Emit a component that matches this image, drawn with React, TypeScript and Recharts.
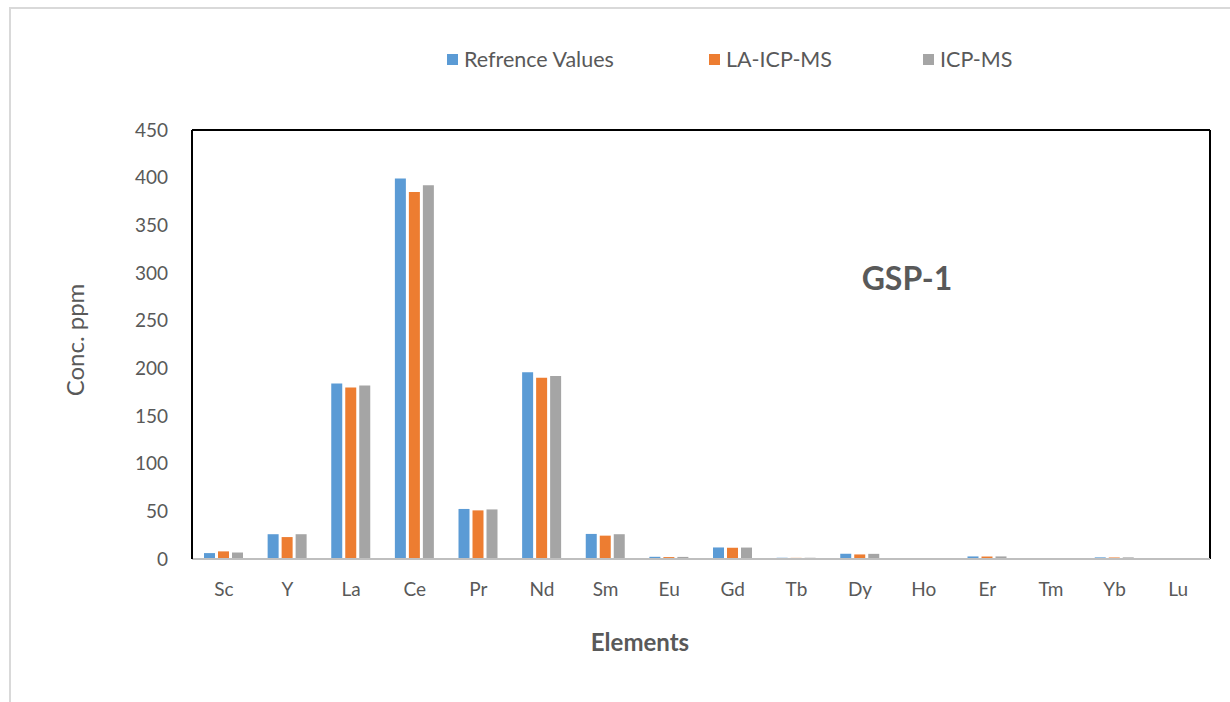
import React from 'react';
import { BarChart, Bar, XAxis, YAxis, Legend, CartesianGrid } from 'recharts';

const elements = ['Sc', 'Y', 'La', 'Ce', 'Pr', 'Nd', 'Sm', 'Eu', 'Gd', 'Tb', 'Dy', 'Ho', 'Er', 'Tm', 'Yb', 'Lu'];
const referenceValues = [6.2, 26, 184, 399, 52.5, 196, 26.3, 2.3, 12.1, 1.3, 5.5, 1.0, 2.7, 0.3, 1.7, 0.2];
const laIcpMs = [8, 23, 180, 385, 51, 190, 24.5, 2.0, 11.8, 1.2, 4.8, 1.0, 2.6, 0.3, 1.6, 0.2];
const icpMs = [6.8, 26, 182, 392, 52, 192, 26, 2.2, 12, 1.3, 5.4, 1.0, 2.7, 0.3, 1.7, 0.2];
const yTicks = [0, 50, 100, 150, 200, 250, 300, 350, 400, 450];

const seriesNames = ['Refrence Values', 'LA-ICP-MS', 'ICP-MS'];
const seriesColors = ['#5b9bd5', '#ed7d31', '#a5a5a5'];

const data = elements.map((el, i) => ({
  element: el,
  refValue: referenceValues[i],
  laValue: laIcpMs[i],
  icpValue: icpMs[i],
}));

const FONT = 'Lato, "Open Sans", sans-serif';
const TEXT = '#595959';
const legendItemWidths = [262, 214, 100];

function renderLegend() {
  return (
    <div style={{ display: 'flex', alignItems: 'center', fontFamily: FONT, fontSize: 21.5, color: TEXT, lineHeight: '24px' }}>
      {seriesNames.map((n, i) => (
        <div key={n} style={{ display: 'flex', alignItems: 'center', width: legendItemWidths[i], whiteSpace: 'nowrap' }}>
          <span style={{ display: 'inline-block', width: 11, height: 11, background: seriesColors[i], marginRight: 6 }} />
          <span>{n}</span>
        </div>
      ))}
    </div>
  );
}

export default function App() {
  return (
    <div style={{ position: 'absolute', left: 0, top: 0, width: 1230, height: 702, background: '#fff', overflow: 'hidden' }}>
      <div style={{ position: 'absolute', left: 9, top: 7, width: 1300, height: 800, borderLeft: '2px solid #d9d9d9', borderTop: '2px solid #d9d9d9' }} />
      <div style={{ position: 'absolute', left: 0, top: 0 }}>
        <BarChart
          width={1230}
          height={702}
          data={data}
          margin={{ top: 130, right: 20, bottom: 83, left: 132 }}
          barSize={11}
          barGap={3}
        >
          <CartesianGrid
            stroke="#000"
            strokeWidth={2}
            horizontalCoordinatesGenerator={({ offset }: any) => [offset.top]}
            verticalCoordinatesGenerator={({ offset }: any) => [offset.left, offset.left + offset.width]}
          />
          <XAxis
            dataKey="element"
            height={60}
            axisLine={{ stroke: '#bfbfbf', strokeWidth: 2 }}
            tickLine={false}
            tickSize={6}
            tickMargin={18}
            interval={0}
            tick={{ fill: TEXT, fontSize: 19, fontFamily: FONT }}
          />
          <YAxis
            domain={[0, 450]}
            ticks={yTicks}
            width={60}
            axisLine={{ stroke: '#000', strokeWidth: 2 }}
            tickLine={false}
            tickSize={6}
            tickMargin={18}
            interval={0}
            tick={{ fill: TEXT, fontSize: 19, fontFamily: FONT }}
          />
          <Legend
            content={renderLegend}
            wrapperStyle={{ position: 'absolute', left: 447, top: 47, width: 700, height: 0, overflow: 'visible' }}
          />
          <Bar dataKey="refValue" name={seriesNames[0]} fill={seriesColors[0]} isAnimationActive={false} />
          <Bar dataKey="laValue" name={seriesNames[1]} fill={seriesColors[1]} isAnimationActive={false} />
          <Bar dataKey="icpValue" name={seriesNames[2]} fill={seriesColors[2]} isAnimationActive={false} />
        </BarChart>
      </div>
      <div style={{ position: 'absolute', left: 807, width: 200, top: 258, textAlign: 'center', fontFamily: FONT, fontWeight: 700, fontSize: 32, color: TEXT, lineHeight: '40px' }}>
        GSP-1
      </div>
      <div style={{ position: 'absolute', left: 540, width: 200, top: 627, textAlign: 'center', fontFamily: FONT, fontWeight: 700, fontSize: 24, color: TEXT, lineHeight: '30px' }}>
        Elements
      </div>
      <div style={{ position: 'absolute', left: 75, top: 340, width: 0, height: 0 }}>
        <div style={{ position: 'absolute', left: -100, top: -15, width: 200, textAlign: 'center', transform: 'rotate(-90deg)', fontFamily: FONT, fontSize: 24, color: TEXT, lineHeight: '30px' }}>
          Conc. ppm
        </div>
      </div>
    </div>
  );
}
